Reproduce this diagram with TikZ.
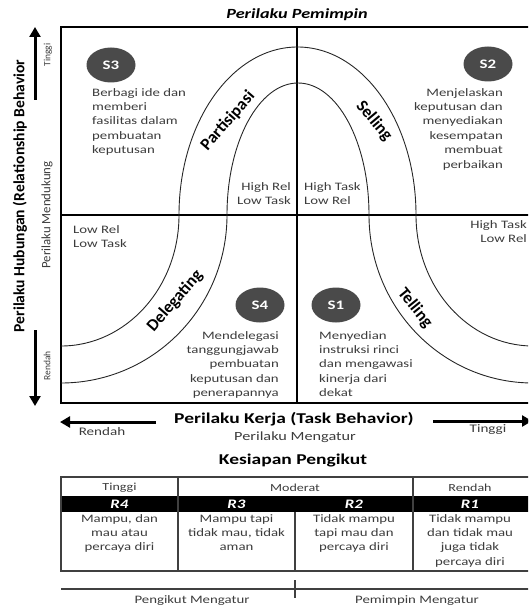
\documentclass[tikz,border=0pt]{standalone}
\usepackage{fontspec}
\usetikzlibrary{shapes.geometric,arrows.meta}
\newfontfamily\wide[FakeStretch=1.3]{Carlito}
\newfontfamily\plain{Carlito}
\definecolor{ink}{HTML}{3C3C3C}
\definecolor{badge}{HTML}{4A4A4A}
\begin{document}
\begin{tikzpicture}[x=1pt,y=-1pt,
  body/.style={font=\wide\fontsize{11.4}{14.4}\selectfont, text=ink, inner sep=0pt},
  small/.style={font=\plain\fontsize{9.5}{11}\selectfont, text=ink, inner sep=0pt},
  head/.style={font=\wide\bfseries\fontsize{15}{18}\selectfont, inner sep=0pt},
  curvelabel/.style={font=\plain\bfseries\fontsize{17}{20}\selectfont, inner sep=0pt},
  badgenode/.style={ellipse, fill=badge, minimum width=49pt, minimum height=35pt,
    inner sep=0pt, text=white, font=\wide\bfseries\fontsize{13}{15}\selectfont},
  frame/.style={line width=2.8pt},
  curve/.style={line width=0.9pt, draw=black!85},
  axisarrow/.style={line width=3pt, -{Triangle[length=10pt,width=11pt]}},
  cell/.style={line width=1.3pt, draw=black!75},
  rlabel/.style={font=\wide\bfseries\itshape\fontsize{13}{15}\selectfont, text=white, inner sep=0pt},
]
\useasboundingbox (0,0) rectangle (528,607);
\clip (0,0) rectangle (528,607);

% title
\node[font=\wide\bfseries\itshape\fontsize{14}{17}\selectfont, inner sep=0pt] (title) at (297,15) {Perilaku Pemimpin};

% quadrant frame
\draw[frame] (61,27) rectangle (533,403);
\draw[frame] (297,27) -- (297,403);
\draw[frame] (61,215) -- (533,215);

% bell curve, upper half
\draw[curve] (179,215) arc[start angle=180, end angle=360, x radius=118.5, y radius=168];
\draw[curve] (227,215) arc[start angle=180, end angle=360, x radius=71, y radius=132];
% bell curve, lower left
\draw[curve] (179,215) arc[start angle=0, end angle=90, x radius=118, y radius=131];
\draw[curve] (227,215) arc[start angle=0, end angle=90, x radius=166, y radius=168];
% bell curve, lower right
\draw[curve] (369,215) arc[start angle=180, end angle=90, x radius=164, y radius=168];
\draw[curve] (416,215) arc[start angle=180, end angle=90, x radius=117, y radius=131];

% style labels along the curve
\node[curvelabel, rotate=49] (partisipasi) at (228,121) {Partisipasi};
\node[curvelabel, rotate=-50] (selling) at (374,121) {Selling};
\node[curvelabel, rotate=49] (delegating) at (175,301) {Delegating};
\node[curvelabel, rotate=-51] (telling) at (415,308) {Telling};

% badges
\node[badgenode] (s3) at (111,65) {S3};
\node[badgenode] (s2) at (488,64) {S2};
\node[badgenode] (s4) at (260,305) {S4};
\node[badgenode] (s1) at (336,305) {S1};

% quadrant descriptions
\node[body, align=left, anchor=north west] (s3text) at (92,88)
  {Berbagi ide dan\\memberi\\fasilitas dalam\\pembuatan\\keputusan};
\node[body, align=right, anchor=north east] (s2text) at (503,88)
  {Menjelaskan\\keputusan dan\\menyediakan\\kesempatan\\membuat\\perbaikan};
\node[body, align=right, anchor=north east] (s4text) at (279,331)
  {Mendelegasi\\tanggungjawab\\pembuatan\\keputusan dan\\penerapannya};
\node[body, align=left, anchor=north west] (s1text) at (319,331)
  {Menyedian\\instruksi rinci\\dan mengawasi\\kinerja dari\\dekat};

\node[body, align=right, anchor=north east] (hrlt) at (291,182) {High Rel\\Low Task};
\node[body, align=left, anchor=north west] (htlr) at (304,182) {High Task\\Low Rel};
\node[body, align=left, anchor=north west] (lrlt) at (73,225) {Low Rel\\Low Task};
\node[body, align=right, anchor=north east] (htlr2) at (527,220) {High Task\\Low Rel};

% vertical axis
\node[font=\plain\bfseries\fontsize{15.6}{18}\selectfont, inner sep=0pt, rotate=90] (yaxis) at (20,196)
  {Perilaku Hubungan (Relationship Behavior};
\node[font=\plain\fontsize{12.8}{15}\selectfont, text=ink, inner sep=0pt, rotate=90] (ysub) at (47,215) {Perilaku Mendukung};
\node[small, rotate=90] (yhigh) at (48,55) {Tinggi};
\node[small, rotate=90] (ylow) at (47,366) {Rendah};
\coordinate (upfrom) at (35,100);
\coordinate (uptip) at (35,27);
\coordinate (downfrom) at (35,330);
\coordinate (downtip) at (35,406);
\draw[axisarrow] (upfrom) -- (uptip);
\draw[axisarrow] (downfrom) -- (downtip);

% horizontal axis
\node[head] (xaxis) at (294,419) {Perilaku Kerja (Task Behavior)};
\node[font=\wide\fontsize{12.5}{15}\selectfont, text=ink, inner sep=0pt] (xsub) at (295,437) {Perilaku Mengatur};
\node[font=\wide\fontsize{11.6}{14}\selectfont, text=ink, inner sep=0pt] (xlow) at (102,432) {Rendah};
\node[font=\wide\fontsize{11.6}{14}\selectfont, text=ink, inner sep=0pt] (xhigh) at (488,430) {Tinggi};
\coordinate (leftfrom) at (156,422);
\coordinate (lefttip) at (60,422);
\coordinate (rightfrom) at (433,421);
\coordinate (righttip) at (532,421);
\draw[axisarrow] (leftfrom) -- (lefttip);
\draw[axisarrow] (rightfrom) -- (righttip);

% follower readiness table
\node[head] (readiness) at (293,461) {Kesiapan Pengikut};
\fill (61,496) rectangle (533,512);
\draw[cell] (61,477) rectangle (533,571);
\draw[cell] (178,477) -- (178,571);
\draw[cell] (413,477) -- (413,571);
\draw[cell] (295,512) -- (295,571);

\node[body, font=\wide\fontsize{10.8}{13}\selectfont] (hdr1) at (119.5,488) {Tinggi};
\node[body, font=\wide\fontsize{10.8}{13}\selectfont] (hdr2) at (295,488) {Moderat};
\node[body, font=\wide\fontsize{10.8}{13}\selectfont] (hdr3) at (470,488) {Rendah};

\node[rlabel] (r4) at (119.5,504) {R4};
\node[rlabel] (r3) at (236.5,504) {R3};
\node[rlabel] (r2) at (354,504) {R2};
\node[rlabel] (r1) at (470,504) {R1};

\node[body, align=center, anchor=north] (r4text) at (119.5,514) {Mampu, dan\\mau atau\\percaya diri};
\node[body, align=center, anchor=north] (r3text) at (236.5,514) {Mampu tapi\\tidak mau, tidak\\aman};
\node[body, align=center, anchor=north] (r2text) at (354,514) {Tidak mampu\\tapi mau dan\\percaya diri};
\node[body, align=center, anchor=north] (r1text) at (470,514) {Tidak mampu\\dan tidak mau\\juga tidak\\percaya diri};

% who directs
\draw[cell] (61,589) -- (533,589);
\draw[cell] (295,580) -- (295,598);
\node[body] (follower) at (192,601) {Pengikut Mengatur};
\node[body] (leader) at (417,601) {Pemimpin Mengatur};
\end{tikzpicture}
\end{document}
